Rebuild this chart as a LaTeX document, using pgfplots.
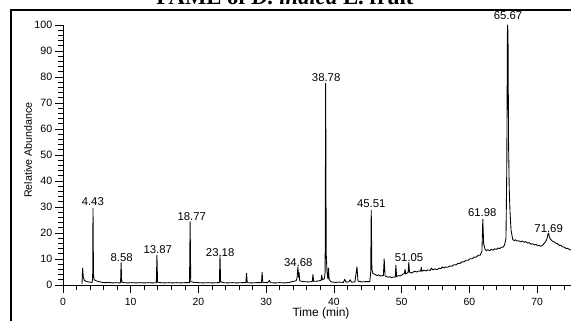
\documentclass[border=0pt]{standalone}
\usepackage{pgfplots}
\pgfplotsset{compat=1.18}
\usepackage{fontspec}
\setmainfont{Liberation Sans}
\newfontfamily\titlefont{Liberation Serif}
\pgfplotstableread{
t y
2.80 0.3
2.90 6.5
3.00 3.0
3.15 1.8
3.40 1.4
3.70 1.2
4.00 1.1
4.30 1.0
4.38 3.0
4.43 29.5
4.50 4.0
4.60 2.0
4.90 1.6
5.30 1.3
5.80 1.0
6.30 0.9
6.80 1.0
7.30 0.8
7.80 0.9
8.30 0.8
8.50 0.9
8.58 8.6
8.66 1.2
9.00 0.9
9.60 0.8
10.2 0.9
10.8 0.8
11.4 0.9
12.0 0.8
12.6 0.9
13.2 0.8
13.78 0.9
13.87 11.5
13.96 1.1
14.4 0.9
15.0 0.8
15.6 0.9
16.2 0.8
16.8 0.9
17.4 0.8
18.0 0.9
18.68 0.9
18.77 24.3
18.86 1.3
19.3 1.0
20.0 0.9
20.7 0.8
21.4 0.9
22.1 0.8
22.8 0.9
23.09 0.9
23.18 11.2
23.27 1.2
23.7 0.9
24.3 0.8
25.0 0.9
25.7 0.8
26.4 0.9
27.0 0.9
27.1 4.5
27.2 0.9
27.8 0.8
28.5 0.9
29.3 0.9
29.4 4.8
29.5 1.0
30.2 0.9
30.5 1.8
30.6 0.9
31.3 0.8
32.0 0.9
32.7 0.8
33.4 1.0
34.0 1.4
34.4 1.6
34.55 2.5
34.68 7.0
34.78 3.0
34.85 4.8
34.95 1.6
35.5 1.3
36.2 1.2
36.8 1.3
36.9 4.0
37.0 1.4
37.6 1.5
38.1 1.8
38.2 3.8
38.3 2.0
38.6 2.5
38.70 5.0
38.78 77.5
38.86 12.0
38.98 5.0
39.1 2.5
39.2 6.5
39.3 2.0
39.6 1.2
40.2 1.0
40.8 1.1
41.4 1.0
41.6 2.2
41.8 1.1
42.2 1.2
42.4 2.0
42.6 1.1
43.1 1.2
43.4 7.0
43.55 1.5
44.1 1.2
44.7 1.3
45.3 1.3
45.43 5.0
45.51 28.8
45.60 6.0
45.75 4.5
46.1 4.0
46.4 3.6
46.6 3.9
46.9 3.4
47.1 3.6
47.3 3.6
47.42 10.0
47.55 3.5
47.8 3.2
48.0 3.0
48.3 3.2
48.5 2.8
48.8 3.1
49.05 3.0
49.15 7.6
49.25 3.2
49.5 3.6
49.8 3.5
50.1 4.0
50.4 4.5
50.5 6.0
50.6 4.2
50.8 4.6
50.95 4.8
51.05 8.7
51.15 5.0
51.4 4.6
51.6 4.8
51.9 5.3
52.2 5.0
52.5 5.4
52.8 5.3
52.9 6.8
53.0 5.3
53.3 5.7
53.6 5.4
53.9 5.8
54.2 5.6
54.4 6.5
54.6 5.8
54.9 6.2
55.2 5.9
55.5 6.4
55.8 6.3
56.0 7.0
56.2 6.5
56.5 6.9
56.8 6.8
57.1 7.3
57.4 7.2
57.7 7.8
58.0 7.7
58.3 8.3
58.6 8.3
58.9 8.9
59.2 8.9
59.5 9.5
59.8 9.5
60.1 10.1
60.4 10.1
60.7 10.7
61.0 10.7
61.3 11.4
61.6 11.5
61.85 13.0
61.98 25.3
62.10 16.0
62.3 13.8
62.5 13.2
62.7 13.6
63.0 13.2
63.2 13.7
63.5 13.4
63.7 13.9
64.0 13.7
64.2 14.2
64.5 14.0
64.7 14.5
65.0 14.6
65.2 15.5
65.40 18.0
65.52 45.0
65.62 100.0
65.70 97.0
65.78 55.0
65.88 37.0
66.00 28.0
66.15 21.0
66.4 17.5
66.6 17.1
66.8 17.4
67.0 16.9
67.3 17.0
67.6 16.6
67.8 16.9
68.1 16.4
68.3 16.7
68.6 16.1
68.8 16.3
69.1 15.7
69.3 15.9
69.6 15.4
69.8 15.6
70.1 15.1
70.3 15.3
70.5 14.9
70.7 15.1
70.9 15.6
71.1 16.2
71.3 16.9
71.45 17.8
71.60 19.5
71.69 20.0
71.80 18.6
71.95 17.6
72.1 17.3
72.3 16.8
72.5 16.6
72.8 16.0
73.0 15.9
73.3 15.2
73.5 15.3
73.8 14.6
74.0 14.6
74.3 14.0
74.5 14.1
74.8 13.6
75.0 13.5
}\chrom
\begin{document}
\begin{tikzpicture}[x=0.75pt,y=0.75pt]
\useasboundingbox (0,0) rectangle (571,321);
\clip (0,0) rectangle (571,321);
\draw[line width=1.4pt] (11,311) rectangle (590,-20);
\node[anchor=base, font=\titlefont\bfseries\fontsize{17}{20}\selectfont, inner sep=0pt] at (285,316) {FAME of \textit{D. indica} L. fruit};
\begin{axis}[
  at={(47.25pt,27pt)}, anchor=origin,
  scale only axis, width=381pt, height=195pt,
  xmin=0, xmax=75, ymin=0, ymax=100,
  axis x line=bottom, axis y line=left,
  axis line style={-, line width=0.6pt},
  xtick distance=10, ytick distance=10,
  minor x tick num=4, minor y tick num=4,
  tick align=outside,
  major tick length=6pt, minor tick length=3.75pt,
  tick style={line width=0.55pt, black},
  xticklabel style={font=\fontsize{7.8}{9}\selectfont, yshift=-0.5pt},
  yticklabel style={font=\fontsize{8}{9}\selectfont, xshift=1.5pt},
  /pgf/number format/assume math mode=true,
  clip=false,
]
\addplot[black, line width=0.65pt, line join=round] table[x=t, y=y] {\chrom};
\begin{scope}[font=\fontsize{8.5}{10}\selectfont, inner sep=0pt]
\node at (axis cs:4.4,31.9) {4.43};
\node at (axis cs:8.66,10.5) {8.58};
\node at (axis cs:14.0,13.5) {13.87};
\node at (axis cs:19.0,26.5) {18.77};
\node at (axis cs:23.2,12.6) {23.18};
\node at (axis cs:34.75,8.6) {34.68};
\node at (axis cs:38.85,79.9) {38.78};
\node at (axis cs:45.5,31.2) {45.51};
\node at (axis cs:51.1,10.6) {51.05};
\node at (axis cs:61.9,27.8) {61.98};
\node at (axis cs:65.7,103.5) {65.67};
\node at (axis cs:71.7,21.7) {71.69};
\end{scope}
\end{axis}
\node[rotate=90, font=\fontsize{8}{9}\selectfont] at (28,171) {Relative Abundance};
\node[font=\fontsize{9}{10}\selectfont] at (321,7.7) {Time (min)};
\end{tikzpicture}
\end{document}
